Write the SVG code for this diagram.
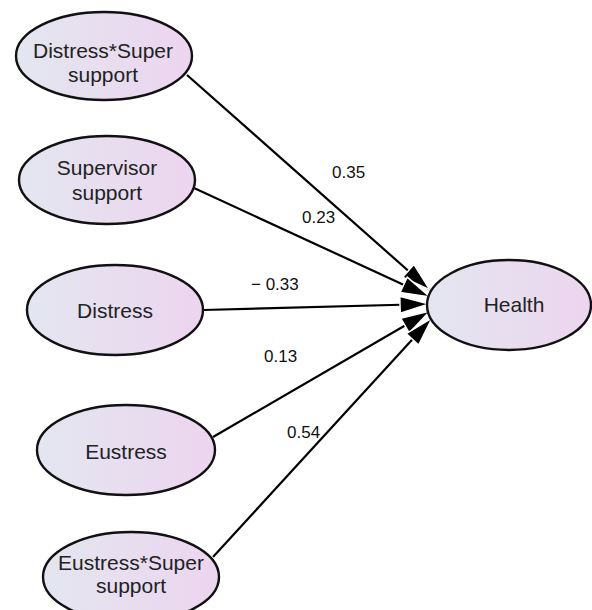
<svg xmlns="http://www.w3.org/2000/svg" width="592" height="610" viewBox="0 0 592 610">
<defs>
<linearGradient id="fillg" x1="0" y1="0" x2="1" y2="0">
<stop offset="0" stop-color="#e3e6f0"/>
<stop offset="1" stop-color="#edd5ef"/>
</linearGradient>
<marker id="ah" markerUnits="userSpaceOnUse" markerWidth="32" markerHeight="20" refX="30" refY="10" orient="auto" viewBox="0 0 32 20">
<path d="M1,1.5 L30,10 L1,18.5 z" fill="#000" stroke="#fff" stroke-width="1.5"/>
</marker>
<style>
.node ellipse{fill:url(#fillg);stroke:#111;stroke-width:2.4}
.node text{font-family:"Liberation Sans",Arial,sans-serif;font-size:21px;fill:#222;text-anchor:middle}
.edge{stroke:#000;stroke-width:2.2;fill:none;marker-end:url(#ah)}
.lbl{font-family:"Liberation Sans",Arial,sans-serif;font-size:17px;fill:#111}
</style>
</defs>
<rect width="592" height="610" fill="#fff"/>
<g id="connectors">
<line class="edge" x1="187" y1="75" x2="430" y2="290"/>
<line class="edge" x1="194" y1="188" x2="430" y2="297"/>
<line class="edge" x1="203" y1="310" x2="429" y2="304"/>
<line class="edge" x1="213" y1="437" x2="430" y2="311"/>
<line class="edge" x1="213" y1="557" x2="432" y2="318"/>
</g>
<g id="labels">
<text class="lbl" x="332" y="178">0.35</text>
<text class="lbl" x="302" y="223">0.23</text>
<text class="lbl" x="251" y="290">− 0.33</text>
<text class="lbl" x="264" y="362">0.13</text>
<text class="lbl" x="287" y="438">0.54</text>
</g>
<g id="node-distress-super" class="node">
<ellipse cx="104" cy="56" rx="88" ry="44"/>
<text x="103" y="58">Distress*Super</text>
<text x="103" y="82">support</text>
</g>
<g id="node-supervisor-support" class="node">
<ellipse cx="107" cy="180" rx="88" ry="44"/>
<text x="107" y="175">Supervisor</text>
<text x="107" y="200">support</text>
</g>
<g id="node-distress" class="node">
<ellipse cx="115" cy="310" rx="88" ry="45"/>
<text x="115" y="318">Distress</text>
</g>
<g id="node-eustress" class="node">
<ellipse cx="126" cy="450" rx="89" ry="45"/>
<text x="126" y="459">Eustress</text>
</g>
<g id="node-eustress-super" class="node">
<ellipse cx="131" cy="577" rx="88" ry="45"/>
<text x="131" y="570">Eustress*Super</text>
<text x="131" y="593">support</text>
</g>
<g id="node-health" class="node">
<ellipse cx="509" cy="305" rx="82" ry="45"/>
<text x="514" y="312">Health</text>
</g>
</svg>
